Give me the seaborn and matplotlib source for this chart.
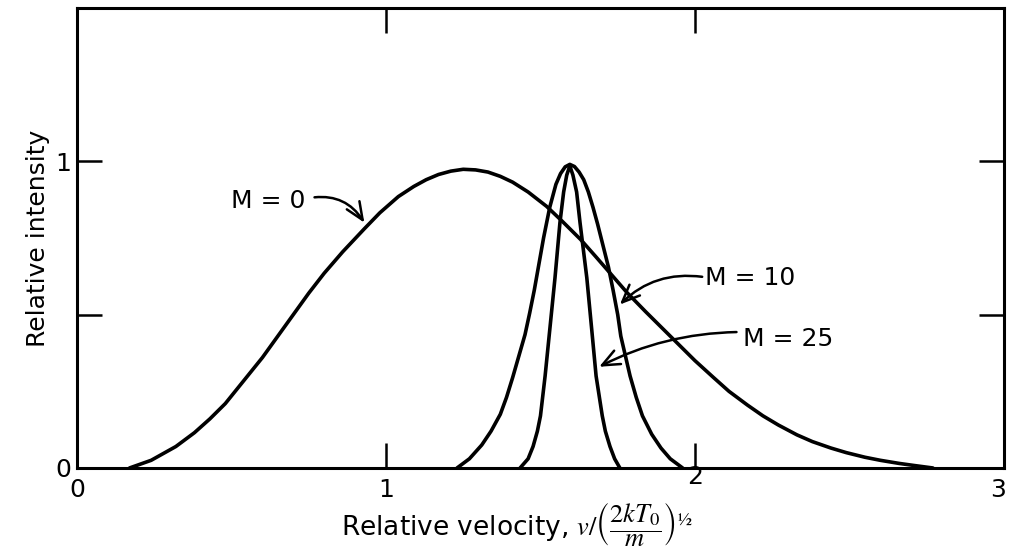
import pandas as pd
import matplotlib.pyplot as plt
import matplotlib.transforms as mtransforms
import seaborn as sns

# --- values ---
m0_x = [0.17, 0.24, 0.32, 0.38, 0.43, 0.48, 0.54, 0.60, 0.65, 0.70, 0.75, 0.80, 0.86,
        0.93, 0.98, 1.04, 1.09, 1.13, 1.17, 1.21, 1.25, 1.29, 1.33, 1.37, 1.41, 1.46,
        1.52, 1.57, 1.63, 1.68, 1.73, 1.78, 1.84, 1.90, 1.95, 2.00, 2.06, 2.11, 2.17,
        2.22, 2.27, 2.33, 2.38, 2.44, 2.49, 2.55, 2.60, 2.66, 2.71, 2.77]
m0_y = [0.0, 0.025, 0.07, 0.115, 0.16, 0.21, 0.285, 0.36, 0.43, 0.50, 0.57, 0.635, 0.705,
        0.78, 0.832, 0.885, 0.918, 0.94, 0.957, 0.968, 0.974, 0.972, 0.965, 0.951, 0.932,
        0.90, 0.853, 0.805, 0.745, 0.688, 0.63, 0.572, 0.51, 0.45, 0.40, 0.35, 0.295, 0.25,
        0.205, 0.17, 0.14, 0.108, 0.086, 0.065, 0.05, 0.035, 0.025, 0.015, 0.008, 0.0]

m10_x = [1.23, 1.27, 1.31, 1.34, 1.37, 1.39, 1.41, 1.43, 1.45, 1.465, 1.48, 1.495, 1.51,
         1.53, 1.55, 1.565, 1.58, 1.595, 1.61, 1.625, 1.64, 1.655, 1.67, 1.685, 1.70,
         1.72, 1.735, 1.75, 1.76, 1.775, 1.79, 1.81, 1.83, 1.86, 1.89, 1.92, 1.96]
m10_y = [0.0, 0.03, 0.075, 0.12, 0.175, 0.23, 0.295, 0.365, 0.435, 0.505, 0.58, 0.665, 0.75,
         0.85, 0.925, 0.96, 0.982, 0.99, 0.983, 0.965, 0.94, 0.9, 0.85, 0.795, 0.735,
         0.655, 0.58, 0.5, 0.43, 0.365, 0.30, 0.23, 0.17, 0.11, 0.065, 0.03, 0.0]

m25_x = [1.434, 1.46, 1.476, 1.49, 1.50, 1.515, 1.53, 1.547, 1.563, 1.575, 1.585,
         1.595, 1.605, 1.617, 1.628, 1.65, 1.666, 1.68, 1.70, 1.71, 1.725, 1.74, 1.757]
m25_y = [0.0, 0.03, 0.07, 0.12, 0.17, 0.30, 0.45, 0.62, 0.80, 0.90, 0.955,
         0.985, 0.955, 0.90, 0.80, 0.62, 0.45, 0.30, 0.17, 0.12, 0.07, 0.03, 0.0]

x_ticks = [0, 1, 2, 3]
y_ticks = [0, 0.5, 1]
y_tick_labels = ["0", "", "1"]

df = pd.concat([
    pd.DataFrame({"v": m0_x, "I": m0_y, "M": "M = 0"}),
    pd.DataFrame({"v": m10_x, "I": m10_y, "M": "M = 10"}),
    pd.DataFrame({"v": m25_x, "I": m25_y, "M": "M = 25"}),
])

sns.set_style("ticks")
plt.rcParams['font.family'] = ['DejaVu Sans']
plt.rcParams['mathtext.fontset'] = 'stix'
plt.rcParams['text.color'] = 'black'
plt.rcParams['axes.labelcolor'] = 'black'
plt.rcParams['xtick.color'] = 'black'
plt.rcParams['ytick.color'] = 'black'

fig = plt.figure(figsize=(10.09, 5.55), dpi=100)
ax = fig.add_axes([0.0763, 0.1568, 0.9187, 0.8288])

for name, grp in df.groupby("M"):
    sns.lineplot(data=grp, x="v", y="I", color="black", linewidth=2.6,
                 estimator=None, sort=False, legend=False, ax=ax,
                 solid_joinstyle="round", solid_capstyle="round")

ax.set_xlim(0, 3)
ax.set_ylim(0, 1.5)

ax.set_xticks(x_ticks)
ax.set_xticklabels([str(t) for t in x_ticks])
ax.set_yticks(y_ticks)
ax.set_yticklabels(y_tick_labels)
ax.tick_params(direction="in", length=18, width=1.8, labelsize=18,
               color="black", labelcolor="black")
ax.tick_params(axis="x", pad=7, top=True)
ax.tick_params(axis="y", pad=4, right=True)
# top ticks only at 1 and 2, as in the original
for t, tick in zip(x_ticks, ax.xaxis.get_major_ticks()):
    if t in (0, 3):
        tick.tick2line.set_visible(False)
for t, tick in zip(y_ticks, ax.yaxis.get_major_ticks()):
    if t == 0:
        tick.tick2line.set_visible(False)

# the "2" label sits raised in the original, the "3" a touch left
for lab in ax.get_xticklabels():
    if lab.get_text() == "2":
        lab.set_transform(lab.get_transform() +
                          mtransforms.ScaledTranslation(0, 9 / 72, fig.dpi_scale_trans))
    if lab.get_text() == "3":
        lab.set_transform(lab.get_transform() +
                          mtransforms.ScaledTranslation(-4 / 72, 0, fig.dpi_scale_trans))

for s in ax.spines.values():
    s.set_linewidth(2.2)
    s.set_color("black")

ax.set_xlabel(r"Relative velocity, $v/\left(\dfrac{2kT_0}{m}\right)^{½}$",
              fontsize=19)
ax.xaxis.set_label_coords(0.475, -0.07)
ax.set_ylabel("Relative intensity", fontsize=18, labelpad=4)

arrow = dict(arrowstyle="->,head_length=0.7,head_width=0.3", color="black", lw=1.8)
ax.annotate("M = 0", xy=(0.93, 0.80), xytext=(0.62, 0.87), fontsize=18,
            ha="center", va="center",
            arrowprops=dict(arrow, connectionstyle="arc3,rad=-0.35",
                            relpos=(1, 0.6), shrinkA=4, shrinkB=0))
ax.annotate("M = 10", xy=(1.757, 0.533), xytext=(2.18, 0.618), fontsize=18,
            ha="center", va="center",
            arrowprops=dict(arrow, connectionstyle="arc3,rad=0.25",
                            relpos=(0, 0.55), shrinkA=0, shrinkB=0))
ax.annotate("M = 25", xy=(1.69, 0.33), xytext=(2.30, 0.42), fontsize=18,
            ha="center", va="center",
            arrowprops=dict(arrow, connectionstyle="arc3,rad=0.12",
                            relpos=(0, 0.8), shrinkA=2, shrinkB=0))

fig.savefig("out.png", dpi=100)
